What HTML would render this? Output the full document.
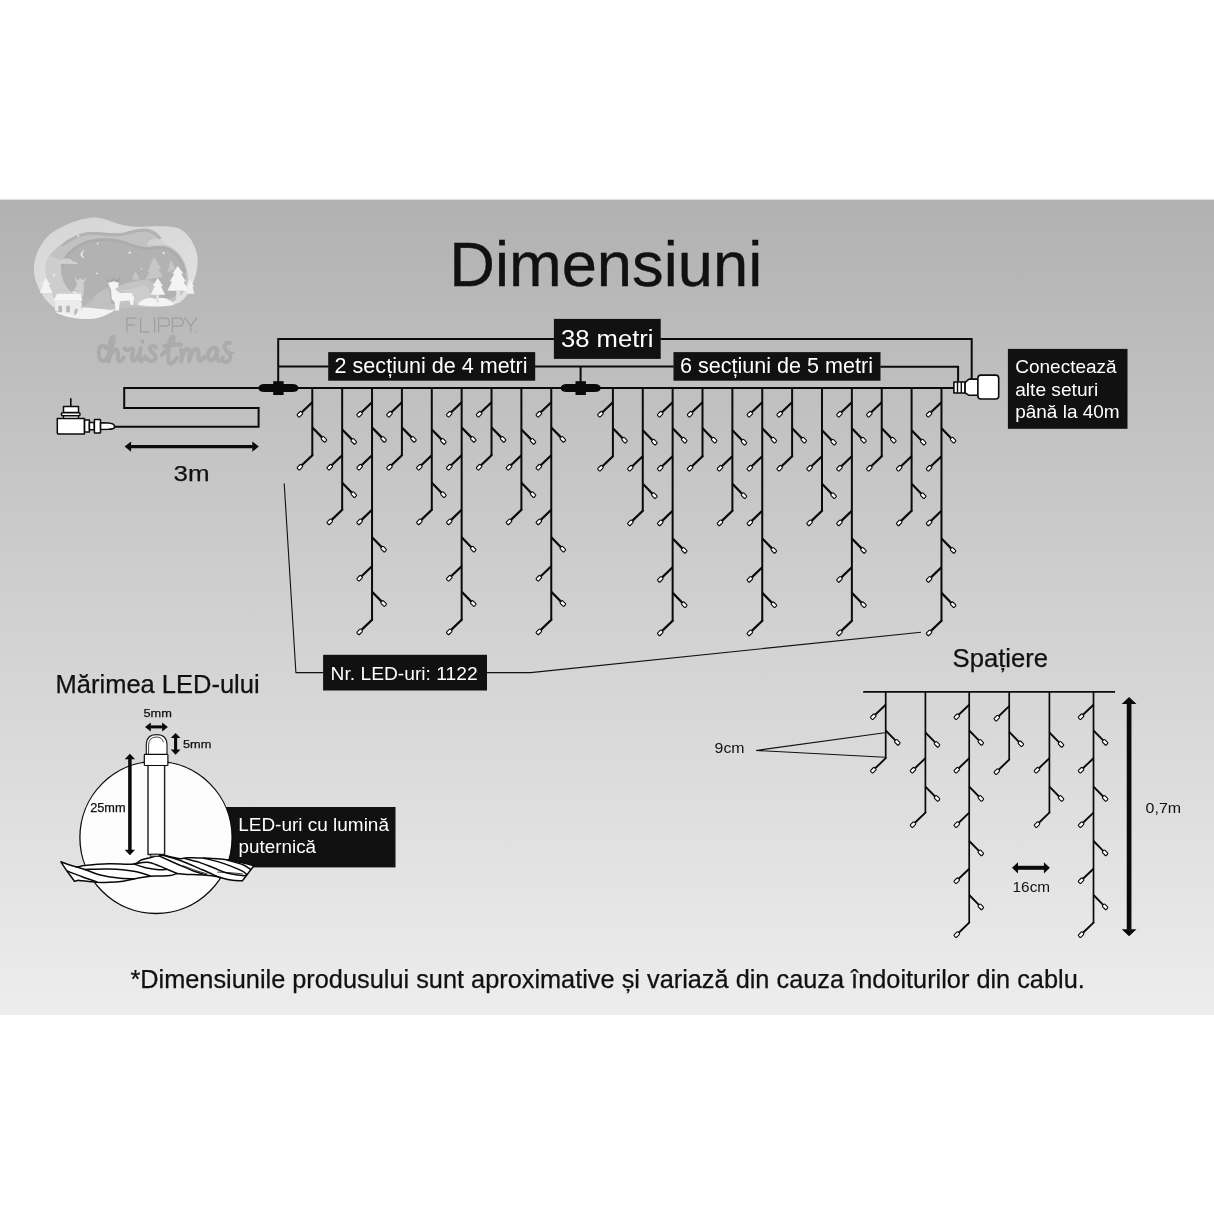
<!DOCTYPE html>
<html lang="ro"><head><meta charset="utf-8"><title>Dimensiuni</title>
<style>
html,body{margin:0;padding:0;background:#fff;}
body{width:1214px;height:1214px;overflow:hidden;position:relative;}
svg{display:block;position:absolute;left:0;top:0;will-change:transform;opacity:0.9999;}
text{font-family:"Liberation Sans", sans-serif;fill:#111;}
.w{fill:#fff;}
.led{fill:#fff;stroke:#0a0a0a;stroke-width:1.1;}
.c{fill:none;stroke:#0a0a0a;stroke-width:2.0;stroke-linejoin:miter;stroke-linecap:butt;}
.c2{fill:none;stroke:#0a0a0a;stroke-width:1.7;stroke-linejoin:miter;stroke-linecap:butt;}
.cb{fill:none;stroke:#0a0a0a;stroke-width:2.25;stroke-linejoin:miter;stroke-linecap:butt;}
.cb2{fill:none;stroke:#0a0a0a;stroke-width:1.9;stroke-linejoin:miter;stroke-linecap:butt;}
.t{fill:none;stroke:#111;stroke-width:1.1;}
.box{fill:#111;}
.wo{fill:#fff;stroke:#0a0a0a;stroke-width:1.2;stroke-linejoin:round;}
</style></head><body>
<svg width="1214" height="1214" viewBox="0 0 1214 1214">
<defs>
<linearGradient id="bg" x1="0" y1="0" x2="0" y2="1"><stop offset="0" stop-color="#b1b1b1"/><stop offset="0.5" stop-color="#d0d0d0"/><stop offset="1" stop-color="#ededed"/></linearGradient>
<filter id="b1" x="-20%" y="-20%" width="140%" height="140%"><feGaussianBlur stdDeviation="0.8"/></filter>
<filter id="b2" x="-20%" y="-20%" width="140%" height="140%"><feGaussianBlur stdDeviation="1.6"/></filter>
<filter id="lb" x="-5%" y="-5%" width="110%" height="110%"><feGaussianBlur stdDeviation="3.2"/></filter>
<filter id="lb2" x="-5%" y="-20%" width="110%" height="140%"><feGaussianBlur stdDeviation="0.35"/></filter>
<filter id="lb3" x="-5%" y="-10%" width="110%" height="120%"><feGaussianBlur stdDeviation="3"/></filter>
<linearGradient id="lg1" x1="0" y1="0" x2="0.3" y2="1"><stop offset="0" stop-color="#d5d5d5"/><stop offset="1" stop-color="#e2e2e2"/></linearGradient>
</defs>
<rect x="0" y="0" width="1214" height="1214" fill="#fff"/>
<rect x="0" y="199.6" width="1214" height="815.3" fill="url(#bg)"/>
<g transform="translate(25 210) scale(0.14828)" filter="url(#lb)">
<!-- outer blob -->
<path fill="url(#lg1)" d="M60 400C60 330 90 240 160 170C230 110 380 50 470 50C540 50 600 95 720 112C800 120 960 95 1040 125C1110 160 1165 260 1165 340C1165 430 1120 540 1080 590C1040 640 960 650 900 650C820 652 720 645 640 665C590 680 520 735 440 735C360 735 260 700 200 660C130 610 60 500 60 400Z"/>
<!-- layer 2 -->
<path fill="#c2c2c2" d="M140 400C135 330 180 280 240 235C290 200 350 160 420 150C520 140 600 172 680 150C740 130 780 120 830 128C880 140 900 165 920 192C880 185 860 200 835 215C900 235 960 225 1000 260C1060 300 1100 380 1100 470C1090 540 1040 600 980 630L300 700C200 640 145 520 140 400Z"/>
<path fill="none" stroke="#b2b2b2" stroke-width="20" d="M250 240C300 200 360 168 420 160C520 150 600 182 680 160C740 142 790 132 830 138C870 148 895 170 912 196"/>
<path fill="#d2d2d2" d="M830 215C850 190 900 185 930 210C960 215 960 235 940 240L840 240C820 235 820 222 830 215Z"/>
<!-- sky -->
<path fill="#b2b2b2" d="M240 400C240 330 300 260 380 220C460 185 560 185 640 200C720 225 780 255 840 250C900 240 960 235 1010 280C1060 320 1090 400 1085 470C1060 560 1000 610 900 620L420 640C300 600 240 500 240 400Z"/>
<path fill="none" stroke="#ababab" stroke-width="16" d="M250 395C255 330 310 268 385 230C460 196 560 196 640 211C720 236 780 266 840 261C900 251 955 246 1005 290C1040 320 1070 370 1078 420"/>
<!-- moon disc layer (left) -->
<path fill="#cdcdcd" d="M140 400C140 350 150 330 170 310L250 340C235 400 240 470 300 545L330 560L200 600C160 540 140 470 140 400Z"/>
<!-- cloud left -->
<path fill="#d0d0d0" d="M205 362C215 345 240 345 250 335C270 320 310 325 320 345C340 345 355 355 355 364Z"/>
<!-- gray trees behind -->
<path fill="#c6c6c6" d="M870 315L920 400L900 400L930 450L810 470L840 420L825 420Z M985 335L1015 400L960 420Z M745 410L772 468L720 468Z"/>
<!-- right hills -->
<path fill="#c4c4c4" d="M620 520C680 490 760 470 820 470C880 480 900 520 900 600L620 640Z"/>
<path fill="#cdcdcd" d="M640 540C700 540 760 520 800 500C830 520 850 560 850 600L740 640C740 600 700 560 640 540Z"/>
<!-- center hill -->
<path fill="#c0c0c0" d="M385 660C430 620 480 560 560 525C580 560 585 640 580 685C520 690 440 680 385 660Z"/>
<path fill="#b6b6b6" d="M385 585C420 580 450 590 470 600L390 655Z"/>
<!-- left deer (gray) -->
<path fill="#cfcfcf" d="M335 450L350 470L365 470L372 455L380 470L395 470L410 450L405 480L392 490L398 520L392 585L345 585L350 540L320 548L345 520L352 490L340 480Z"/>
<!-- snow ground -->
<path fill="#f2f2f2" d="M205 690C260 720 360 740 440 735C520 730 560 700 600 680C560 670 500 660 440 665C380 670 300 680 205 690Z"/>
<path fill="#f2f2f2" d="M380 660C420 650 470 665 520 675L560 690L400 700Z"/>
<path fill="#f4f4f4" d="M760 640C780 600 840 585 880 600C920 580 990 600 1005 640C940 652 840 650 760 640Z"/>
<!-- center deer (white) -->
<path fill="#a3a3a3" d="M545 450L565 478L590 470L600 450L608 470L628 465L640 448L638 480L610 495L575 495L552 478Z"/>
<path fill="#f4f4f4" d="M560 490L600 480L632 490L628 520L610 535L640 560L720 560L735 590L730 640L712 640L705 610L640 615L632 680L612 680L605 620L585 600L580 540Z"/>
<!-- house -->
<path fill="#f5f5f5" d="M215 565L375 565L388 612L192 612Z"/>
<path fill="#ececec" d="M202 612L380 612L380 668C380 690 350 700 330 712L202 680Z"/>
<path fill="#b8b8b8" d="M225 645H250V690H225Z M278 645H303V690H278Z M332 690C332 670 345 660 352 665C360 680 350 700 335 712Z"/>
<path fill="#e4e4e4" d="M320 548L350 548L350 566L320 566Z"/>
<!-- left tree -->
<path fill="#f2f2f2" d="M142 458L172 505L160 505L186 560L100 560L124 505L112 505Z"/>
<path fill="#dcdcdc" d="M132 560H152V610L132 600Z"/>
<!-- right trees (white) -->
<path fill="#f4f4f4" d="M1030 378L1068 430L1052 430L1086 482L1068 482L1104 545L960 545L992 482L976 482L1008 430L994 430Z"/>
<path fill="#e2e2e2" d="M1020 545H1046V625H1020Z"/>
<path fill="#f4f4f4" d="M895 458L930 512L916 512L945 572L848 572L876 512L862 512Z"/>
<path fill="#e2e2e2" d="M884 572H904V625H884Z"/>
<path fill="#f0f0f0" d="M1115 468L1140 520L1130 520L1142 565L1090 565L1100 520L1092 520Z"/>
<!-- stars / moon -->
<g fill="#e6e6e6">
<circle cx="360" cy="175" r="7"/><circle cx="490" cy="226" r="6"/><circle cx="706" cy="288" r="8"/><circle cx="935" cy="290" r="8"/>
<circle cx="196" cy="440" r="8"/><circle cx="486" cy="428" r="6"/><circle cx="786" cy="396" r="5"/><circle cx="130" cy="320" r="5"/><circle cx="182" cy="220" r="5"/>
<path d="M398 272C370 285 368 318 400 322C382 312 380 288 398 272Z" stroke="#e6e6e6" stroke-width="5"/>
</g>
</g>
<!-- FLIPPY -->
<g fill="none" stroke="#9e9e9e" stroke-width="1.25" filter="url(#lb2)">
<path d="M126.9 332.4V318.2H136.3 M126.9 325H135"/>
<path d="M140.6 317.6V331.8H149.6"/>
<path d="M154.6 317.6V332.4"/>
<path d="M158.6 332.4V318.2H165.2Q169.4 318.2 169.4 322.2Q169.4 326.2 165.2 326.2H158.6"/>
<path d="M172.4 332.4V318.2H179Q183.2 318.2 183.2 322.2Q183.2 326.2 179 326.2H172.4"/>
<path d="M184.6 317.6L190.8 325.8L197 317.6 M190.8 325.8V332.4"/>
</g>
<circle cx="196.4" cy="331.2" r="0.9" fill="none" stroke="#a4a4a4" stroke-width="0.5"/>
<!-- christmas script -->
<g transform="translate(90 310) scale(0.13180)" fill="none" stroke="#ababab" stroke-width="31" stroke-linecap="round" stroke-linejoin="round" filter="url(#lb3)">
<path d="M125 290C110 260 75 265 68 310C62 360 80 395 110 385C128 378 135 360 140 345"/>
<path d="M140 345C160 300 185 240 180 210C172 190 155 215 150 260C146 310 142 360 140 392C150 340 175 300 200 300C222 305 205 350 215 380C225 395 245 385 255 360"/>
<path d="M262 290C270 305 290 310 305 295C320 285 335 290 325 320C318 350 315 385 335 385C348 385 355 365 360 350"/>
<path d="M385 290C378 320 370 360 380 382C392 395 410 380 418 355"/>
<path d="M398 238L400 242" stroke-width="30"/>
<path d="M500 285C485 262 455 270 455 298C458 320 500 330 498 360C495 390 455 395 438 372"/>
<path d="M545 340C590 300 640 240 635 210C628 185 605 215 600 260C594 320 590 380 600 402C612 420 640 395 660 360"/>
<path d="M560 275C600 268 650 262 690 262"/>
<path d="M690 300C700 330 695 370 692 390C700 340 720 295 745 295C765 300 755 350 752 388C762 340 785 292 810 295C832 300 818 350 825 378C832 392 855 385 868 355"/>
<path d="M965 300C945 275 905 290 895 335C888 375 915 395 940 370C955 350 965 320 968 298C962 330 958 375 975 385C990 390 1000 375 1008 360"/>
<path d="M1060 250C1040 240 1015 255 1022 285C1030 310 1068 325 1065 360C1060 395 1020 405 1005 380"/>
<path d="M1030 320C1050 318 1075 322 1090 328" stroke-width="14"/>
</g>

<text x="449.2" y="285.6" font-size="62.6" textLength="313" lengthAdjust="spacingAndGlyphs" stroke="#111" stroke-width="0.35">Dimensiuni</text>
<path class="c" d="M114.5 426.7H258.6V408.1H124.2V388.0H953.5"/>
<path d="M130.6 446.6H252.8" stroke="#0a0a0a" stroke-width="3.2" fill="none"/><path d="M124.6 446.6L131.1 441.40000000000003V451.8Z M258.8 446.6L252.3 441.40000000000003V451.8Z" fill="#0a0a0a"/>
<text x="173.6" y="481.3" font-size="22.5" textLength="36" lengthAdjust="spacingAndGlyphs" stroke="#111" stroke-width="0.25">3m</text>
<g class="wo" style="stroke-width:1.5">
<path d="M70.8 398.2V406.2" fill="none" style="stroke-width:1.6"/>
<rect x="63.5" y="406.4" width="15.0" height="6.2"/>
<rect x="63.5" y="414.6" width="15.0" height="4.4" style="stroke-width:1.3"/>
<rect x="61.3" y="412.7" width="18.8" height="3.0" rx="1.5"/>
<path d="M57.3 418.5H84.4V434.1H58.3L57.3 433.1Z"/>
<rect x="84.6" y="420.0" width="4.8" height="12.0"/>
<rect x="89.4" y="422.6" width="4.9" height="7.2"/>
<rect x="94.4" y="419.4" width="6.1" height="13.6" rx="0.6"/>
<path d="M100.6 422.8L108.4 423.0Q113.8 423.6 114.4 425.4L114.4 427.6Q113.8 429.0 108.4 429.3L100.6 429.5Z"/>
</g>
<path class="c" d="M278.2 387V338.9H554.5 M660.5 338.9H971.7V379.0"/>
<path class="c" d="M278.2 366.6H328.5 M535 366.6H673.8 M880.3 366.8H958.1V381.6 M580.6 366.6V384"/>
<path d="M258.4 388.0Q258.4 384.1 264.4 383.9H292.4Q298.4 384.1 298.4 388.0Q298.4 391.9 292.4 392.1H264.4Q258.4 391.9 258.4 388.0Z" fill="#0a0a0a"/><rect x="273.2" y="381.2" width="10.4" height="13.8" fill="#0a0a0a"/>
<path d="M560.7 388.0Q560.7 384.1 566.7 383.9H594.7Q600.7 384.1 600.7 388.0Q600.7 391.9 594.7 392.1H566.7Q560.7 391.9 560.7 388.0Z" fill="#0a0a0a"/><rect x="575.5" y="381.2" width="10.4" height="13.8" fill="#0a0a0a"/>
<g class="wo" style="stroke-width:1.6">
<rect x="953.9" y="382.0" width="11.2" height="11.0"/>
<path d="M957.5 382V393M961.3 382V393" fill="none" style="stroke-width:1.4"/>
<path d="M965.1 382.3L969.0 379.1H978.2V395.3H969.0L965.1 392.8Z"/>
<rect x="977.9" y="375.1" width="20.8" height="23.9" rx="3"/>
</g>
<rect class="box" x="553.9" y="318.9" width="106.8" height="40.0"/>
<text class="w" x="561.0" y="347.1" font-size="23" textLength="92.5" lengthAdjust="spacingAndGlyphs">38 metri</text>
<rect class="box" x="328.2" y="352.1" width="207.0" height="28.6"/>
<text class="w" x="334.6" y="372.9" font-size="21.5" textLength="193" lengthAdjust="spacingAndGlyphs">2 secțiuni de 4 metri</text>
<rect class="box" x="673.5" y="352.1" width="207.0" height="28.6"/>
<text class="w" x="680.0" y="372.9" font-size="21.5" textLength="193" lengthAdjust="spacingAndGlyphs">6 secțiuni de 5 metri</text>
<rect class="box" x="1007.9" y="348.9" width="119.6" height="79.9"/>
<text class="w" x="1015.2" y="372.5" font-size="18.2" textLength="101.5" lengthAdjust="spacingAndGlyphs">Conectează</text>
<text class="w" x="1015.2" y="395.5" font-size="18.2" textLength="83" lengthAdjust="spacingAndGlyphs">alte seturi</text>
<text class="w" x="1015.2" y="418.2" font-size="18.2" textLength="104.5" lengthAdjust="spacingAndGlyphs">până la 40m</text>
<path class="c" d="M312.30 388.00V455.60 M342.17 388.00V510.20 M372.04 388.00V620.20 M401.91 388.00V455.60 M431.78 388.00V510.20 M461.65 388.00V620.20 M491.52 388.00V455.60 M521.39 388.00V510.20 M551.26 388.00V620.20 M612.90 388.00V456.60 M642.77 388.00V511.20 M672.64 388.00V621.20 M702.51 388.00V456.60 M732.38 388.00V511.20 M762.25 388.00V621.20 M792.12 388.00V456.60 M821.99 388.00V511.20 M851.86 388.00V621.20 M881.73 388.00V456.60 M911.60 388.00V511.20 M941.47 388.00V621.20"/>
<path class="cb" d="M312.30 454.60V455.20L301.80 465.30 M312.30 402.20L301.80 412.30 M312.30 427.50L322.00 437.40 M342.17 509.20V509.80L331.67 519.90 M342.17 429.50L351.87 439.40 M342.17 455.20L331.67 465.30 M342.17 482.80L351.87 492.70 M372.04 619.20V619.80L361.54 629.90 M372.04 402.20L361.54 412.30 M372.04 427.50L381.74 437.40 M372.04 455.20L361.54 465.30 M372.04 509.80L361.54 519.90 M372.04 537.30L381.74 547.20 M372.04 566.20L361.54 576.30 M372.04 591.70L381.74 601.60 M401.91 454.60V455.20L391.41 465.30 M401.91 402.20L391.41 412.30 M401.91 427.50L411.61 437.40 M431.78 509.20V509.80L421.28 519.90 M431.78 429.50L441.48 439.40 M431.78 455.20L421.28 465.30 M431.78 482.80L441.48 492.70 M461.65 619.20V619.80L451.15 629.90 M461.65 402.20L451.15 412.30 M461.65 427.50L471.35 437.40 M461.65 455.20L451.15 465.30 M461.65 509.80L451.15 519.90 M461.65 537.30L471.35 547.20 M461.65 566.20L451.15 576.30 M461.65 591.70L471.35 601.60 M491.52 454.60V455.20L481.02 465.30 M491.52 402.20L481.02 412.30 M491.52 427.50L501.22 437.40 M521.39 509.20V509.80L510.89 519.90 M521.39 429.50L531.09 439.40 M521.39 455.20L510.89 465.30 M521.39 482.80L531.09 492.70 M551.26 619.20V619.80L540.76 629.90 M551.26 402.20L540.76 412.30 M551.26 427.50L560.96 437.40 M551.26 455.20L540.76 465.30 M551.26 509.80L540.76 519.90 M551.26 537.30L560.96 547.20 M551.26 566.20L540.76 576.30 M551.26 591.70L560.96 601.60 M612.90 455.60V456.20L602.40 466.30 M612.90 402.20L602.40 412.30 M612.90 428.30L622.60 438.20 M642.77 510.20V510.80L632.27 520.90 M642.77 430.30L652.47 440.20 M642.77 456.20L632.27 466.30 M642.77 483.80L652.47 493.70 M672.64 620.20V620.80L662.14 630.90 M672.64 402.20L662.14 412.30 M672.64 428.30L682.34 438.20 M672.64 456.20L662.14 466.30 M672.64 510.80L662.14 520.90 M672.64 538.50L682.34 548.40 M672.64 567.30L662.14 577.40 M672.64 592.90L682.34 602.80 M702.51 455.60V456.20L692.01 466.30 M702.51 402.20L692.01 412.30 M702.51 428.30L712.21 438.20 M732.38 510.20V510.80L721.88 520.90 M732.38 430.30L742.08 440.20 M732.38 456.20L721.88 466.30 M732.38 483.80L742.08 493.70 M762.25 620.20V620.80L751.75 630.90 M762.25 402.20L751.75 412.30 M762.25 428.30L771.95 438.20 M762.25 456.20L751.75 466.30 M762.25 510.80L751.75 520.90 M762.25 538.50L771.95 548.40 M762.25 567.30L751.75 577.40 M762.25 592.90L771.95 602.80 M792.12 455.60V456.20L781.62 466.30 M792.12 402.20L781.62 412.30 M792.12 428.30L801.82 438.20 M821.99 510.20V510.80L811.49 520.90 M821.99 430.30L831.69 440.20 M821.99 456.20L811.49 466.30 M821.99 483.80L831.69 493.70 M851.86 620.20V620.80L841.36 630.90 M851.86 402.20L841.36 412.30 M851.86 428.30L861.56 438.20 M851.86 456.20L841.36 466.30 M851.86 510.80L841.36 520.90 M851.86 538.50L861.56 548.40 M851.86 567.30L841.36 577.40 M851.86 592.90L861.56 602.80 M881.73 455.60V456.20L871.23 466.30 M881.73 402.20L871.23 412.30 M881.73 428.30L891.43 438.20 M911.60 510.20V510.80L901.10 520.90 M911.60 430.30L921.30 440.20 M911.60 456.20L901.10 466.30 M911.60 483.80L921.30 493.70 M941.47 620.20V620.80L930.97 630.90 M941.47 402.20L930.97 412.30 M941.47 428.30L951.17 438.20 M941.47 456.20L930.97 466.30 M941.47 510.80L930.97 520.90 M941.47 538.50L951.17 548.40 M941.47 567.30L930.97 577.40 M941.47 592.90L951.17 602.80"/>
<rect x="-2.7" y="-1.75" width="5.4" height="3.5" rx="1.0" transform="translate(299.90 467.20) rotate(135)" class="led"/><rect x="-2.7" y="-1.75" width="5.4" height="3.5" rx="1.0" transform="translate(299.90 414.20) rotate(135)" class="led"/><rect x="-2.7" y="-1.75" width="5.4" height="3.5" rx="1.0" transform="translate(323.90 439.30) rotate(45)" class="led"/><rect x="-2.7" y="-1.75" width="5.4" height="3.5" rx="1.0" transform="translate(329.77 521.80) rotate(135)" class="led"/><rect x="-2.7" y="-1.75" width="5.4" height="3.5" rx="1.0" transform="translate(353.77 441.30) rotate(45)" class="led"/><rect x="-2.7" y="-1.75" width="5.4" height="3.5" rx="1.0" transform="translate(329.77 467.20) rotate(135)" class="led"/><rect x="-2.7" y="-1.75" width="5.4" height="3.5" rx="1.0" transform="translate(353.77 494.60) rotate(45)" class="led"/><rect x="-2.7" y="-1.75" width="5.4" height="3.5" rx="1.0" transform="translate(359.64 631.80) rotate(135)" class="led"/><rect x="-2.7" y="-1.75" width="5.4" height="3.5" rx="1.0" transform="translate(359.64 414.20) rotate(135)" class="led"/><rect x="-2.7" y="-1.75" width="5.4" height="3.5" rx="1.0" transform="translate(383.64 439.30) rotate(45)" class="led"/><rect x="-2.7" y="-1.75" width="5.4" height="3.5" rx="1.0" transform="translate(359.64 467.20) rotate(135)" class="led"/><rect x="-2.7" y="-1.75" width="5.4" height="3.5" rx="1.0" transform="translate(359.64 521.80) rotate(135)" class="led"/><rect x="-2.7" y="-1.75" width="5.4" height="3.5" rx="1.0" transform="translate(383.64 549.10) rotate(45)" class="led"/><rect x="-2.7" y="-1.75" width="5.4" height="3.5" rx="1.0" transform="translate(359.64 578.20) rotate(135)" class="led"/><rect x="-2.7" y="-1.75" width="5.4" height="3.5" rx="1.0" transform="translate(383.64 603.50) rotate(45)" class="led"/><rect x="-2.7" y="-1.75" width="5.4" height="3.5" rx="1.0" transform="translate(389.51 467.20) rotate(135)" class="led"/><rect x="-2.7" y="-1.75" width="5.4" height="3.5" rx="1.0" transform="translate(389.51 414.20) rotate(135)" class="led"/><rect x="-2.7" y="-1.75" width="5.4" height="3.5" rx="1.0" transform="translate(413.51 439.30) rotate(45)" class="led"/><rect x="-2.7" y="-1.75" width="5.4" height="3.5" rx="1.0" transform="translate(419.38 521.80) rotate(135)" class="led"/><rect x="-2.7" y="-1.75" width="5.4" height="3.5" rx="1.0" transform="translate(443.38 441.30) rotate(45)" class="led"/><rect x="-2.7" y="-1.75" width="5.4" height="3.5" rx="1.0" transform="translate(419.38 467.20) rotate(135)" class="led"/><rect x="-2.7" y="-1.75" width="5.4" height="3.5" rx="1.0" transform="translate(443.38 494.60) rotate(45)" class="led"/><rect x="-2.7" y="-1.75" width="5.4" height="3.5" rx="1.0" transform="translate(449.25 631.80) rotate(135)" class="led"/><rect x="-2.7" y="-1.75" width="5.4" height="3.5" rx="1.0" transform="translate(449.25 414.20) rotate(135)" class="led"/><rect x="-2.7" y="-1.75" width="5.4" height="3.5" rx="1.0" transform="translate(473.25 439.30) rotate(45)" class="led"/><rect x="-2.7" y="-1.75" width="5.4" height="3.5" rx="1.0" transform="translate(449.25 467.20) rotate(135)" class="led"/><rect x="-2.7" y="-1.75" width="5.4" height="3.5" rx="1.0" transform="translate(449.25 521.80) rotate(135)" class="led"/><rect x="-2.7" y="-1.75" width="5.4" height="3.5" rx="1.0" transform="translate(473.25 549.10) rotate(45)" class="led"/><rect x="-2.7" y="-1.75" width="5.4" height="3.5" rx="1.0" transform="translate(449.25 578.20) rotate(135)" class="led"/><rect x="-2.7" y="-1.75" width="5.4" height="3.5" rx="1.0" transform="translate(473.25 603.50) rotate(45)" class="led"/><rect x="-2.7" y="-1.75" width="5.4" height="3.5" rx="1.0" transform="translate(479.12 467.20) rotate(135)" class="led"/><rect x="-2.7" y="-1.75" width="5.4" height="3.5" rx="1.0" transform="translate(479.12 414.20) rotate(135)" class="led"/><rect x="-2.7" y="-1.75" width="5.4" height="3.5" rx="1.0" transform="translate(503.12 439.30) rotate(45)" class="led"/><rect x="-2.7" y="-1.75" width="5.4" height="3.5" rx="1.0" transform="translate(508.99 521.80) rotate(135)" class="led"/><rect x="-2.7" y="-1.75" width="5.4" height="3.5" rx="1.0" transform="translate(532.99 441.30) rotate(45)" class="led"/><rect x="-2.7" y="-1.75" width="5.4" height="3.5" rx="1.0" transform="translate(508.99 467.20) rotate(135)" class="led"/><rect x="-2.7" y="-1.75" width="5.4" height="3.5" rx="1.0" transform="translate(532.99 494.60) rotate(45)" class="led"/><rect x="-2.7" y="-1.75" width="5.4" height="3.5" rx="1.0" transform="translate(538.86 631.80) rotate(135)" class="led"/><rect x="-2.7" y="-1.75" width="5.4" height="3.5" rx="1.0" transform="translate(538.86 414.20) rotate(135)" class="led"/><rect x="-2.7" y="-1.75" width="5.4" height="3.5" rx="1.0" transform="translate(562.86 439.30) rotate(45)" class="led"/><rect x="-2.7" y="-1.75" width="5.4" height="3.5" rx="1.0" transform="translate(538.86 467.20) rotate(135)" class="led"/><rect x="-2.7" y="-1.75" width="5.4" height="3.5" rx="1.0" transform="translate(538.86 521.80) rotate(135)" class="led"/><rect x="-2.7" y="-1.75" width="5.4" height="3.5" rx="1.0" transform="translate(562.86 549.10) rotate(45)" class="led"/><rect x="-2.7" y="-1.75" width="5.4" height="3.5" rx="1.0" transform="translate(538.86 578.20) rotate(135)" class="led"/><rect x="-2.7" y="-1.75" width="5.4" height="3.5" rx="1.0" transform="translate(562.86 603.50) rotate(45)" class="led"/><rect x="-2.7" y="-1.75" width="5.4" height="3.5" rx="1.0" transform="translate(600.50 468.20) rotate(135)" class="led"/><rect x="-2.7" y="-1.75" width="5.4" height="3.5" rx="1.0" transform="translate(600.50 414.20) rotate(135)" class="led"/><rect x="-2.7" y="-1.75" width="5.4" height="3.5" rx="1.0" transform="translate(624.50 440.10) rotate(45)" class="led"/><rect x="-2.7" y="-1.75" width="5.4" height="3.5" rx="1.0" transform="translate(630.37 522.80) rotate(135)" class="led"/><rect x="-2.7" y="-1.75" width="5.4" height="3.5" rx="1.0" transform="translate(654.37 442.10) rotate(45)" class="led"/><rect x="-2.7" y="-1.75" width="5.4" height="3.5" rx="1.0" transform="translate(630.37 468.20) rotate(135)" class="led"/><rect x="-2.7" y="-1.75" width="5.4" height="3.5" rx="1.0" transform="translate(654.37 495.60) rotate(45)" class="led"/><rect x="-2.7" y="-1.75" width="5.4" height="3.5" rx="1.0" transform="translate(660.24 632.80) rotate(135)" class="led"/><rect x="-2.7" y="-1.75" width="5.4" height="3.5" rx="1.0" transform="translate(660.24 414.20) rotate(135)" class="led"/><rect x="-2.7" y="-1.75" width="5.4" height="3.5" rx="1.0" transform="translate(684.24 440.10) rotate(45)" class="led"/><rect x="-2.7" y="-1.75" width="5.4" height="3.5" rx="1.0" transform="translate(660.24 468.20) rotate(135)" class="led"/><rect x="-2.7" y="-1.75" width="5.4" height="3.5" rx="1.0" transform="translate(660.24 522.80) rotate(135)" class="led"/><rect x="-2.7" y="-1.75" width="5.4" height="3.5" rx="1.0" transform="translate(684.24 550.30) rotate(45)" class="led"/><rect x="-2.7" y="-1.75" width="5.4" height="3.5" rx="1.0" transform="translate(660.24 579.30) rotate(135)" class="led"/><rect x="-2.7" y="-1.75" width="5.4" height="3.5" rx="1.0" transform="translate(684.24 604.70) rotate(45)" class="led"/><rect x="-2.7" y="-1.75" width="5.4" height="3.5" rx="1.0" transform="translate(690.11 468.20) rotate(135)" class="led"/><rect x="-2.7" y="-1.75" width="5.4" height="3.5" rx="1.0" transform="translate(690.11 414.20) rotate(135)" class="led"/><rect x="-2.7" y="-1.75" width="5.4" height="3.5" rx="1.0" transform="translate(714.11 440.10) rotate(45)" class="led"/><rect x="-2.7" y="-1.75" width="5.4" height="3.5" rx="1.0" transform="translate(719.98 522.80) rotate(135)" class="led"/><rect x="-2.7" y="-1.75" width="5.4" height="3.5" rx="1.0" transform="translate(743.98 442.10) rotate(45)" class="led"/><rect x="-2.7" y="-1.75" width="5.4" height="3.5" rx="1.0" transform="translate(719.98 468.20) rotate(135)" class="led"/><rect x="-2.7" y="-1.75" width="5.4" height="3.5" rx="1.0" transform="translate(743.98 495.60) rotate(45)" class="led"/><rect x="-2.7" y="-1.75" width="5.4" height="3.5" rx="1.0" transform="translate(749.85 632.80) rotate(135)" class="led"/><rect x="-2.7" y="-1.75" width="5.4" height="3.5" rx="1.0" transform="translate(749.85 414.20) rotate(135)" class="led"/><rect x="-2.7" y="-1.75" width="5.4" height="3.5" rx="1.0" transform="translate(773.85 440.10) rotate(45)" class="led"/><rect x="-2.7" y="-1.75" width="5.4" height="3.5" rx="1.0" transform="translate(749.85 468.20) rotate(135)" class="led"/><rect x="-2.7" y="-1.75" width="5.4" height="3.5" rx="1.0" transform="translate(749.85 522.80) rotate(135)" class="led"/><rect x="-2.7" y="-1.75" width="5.4" height="3.5" rx="1.0" transform="translate(773.85 550.30) rotate(45)" class="led"/><rect x="-2.7" y="-1.75" width="5.4" height="3.5" rx="1.0" transform="translate(749.85 579.30) rotate(135)" class="led"/><rect x="-2.7" y="-1.75" width="5.4" height="3.5" rx="1.0" transform="translate(773.85 604.70) rotate(45)" class="led"/><rect x="-2.7" y="-1.75" width="5.4" height="3.5" rx="1.0" transform="translate(779.72 468.20) rotate(135)" class="led"/><rect x="-2.7" y="-1.75" width="5.4" height="3.5" rx="1.0" transform="translate(779.72 414.20) rotate(135)" class="led"/><rect x="-2.7" y="-1.75" width="5.4" height="3.5" rx="1.0" transform="translate(803.72 440.10) rotate(45)" class="led"/><rect x="-2.7" y="-1.75" width="5.4" height="3.5" rx="1.0" transform="translate(809.59 522.80) rotate(135)" class="led"/><rect x="-2.7" y="-1.75" width="5.4" height="3.5" rx="1.0" transform="translate(833.59 442.10) rotate(45)" class="led"/><rect x="-2.7" y="-1.75" width="5.4" height="3.5" rx="1.0" transform="translate(809.59 468.20) rotate(135)" class="led"/><rect x="-2.7" y="-1.75" width="5.4" height="3.5" rx="1.0" transform="translate(833.59 495.60) rotate(45)" class="led"/><rect x="-2.7" y="-1.75" width="5.4" height="3.5" rx="1.0" transform="translate(839.46 632.80) rotate(135)" class="led"/><rect x="-2.7" y="-1.75" width="5.4" height="3.5" rx="1.0" transform="translate(839.46 414.20) rotate(135)" class="led"/><rect x="-2.7" y="-1.75" width="5.4" height="3.5" rx="1.0" transform="translate(863.46 440.10) rotate(45)" class="led"/><rect x="-2.7" y="-1.75" width="5.4" height="3.5" rx="1.0" transform="translate(839.46 468.20) rotate(135)" class="led"/><rect x="-2.7" y="-1.75" width="5.4" height="3.5" rx="1.0" transform="translate(839.46 522.80) rotate(135)" class="led"/><rect x="-2.7" y="-1.75" width="5.4" height="3.5" rx="1.0" transform="translate(863.46 550.30) rotate(45)" class="led"/><rect x="-2.7" y="-1.75" width="5.4" height="3.5" rx="1.0" transform="translate(839.46 579.30) rotate(135)" class="led"/><rect x="-2.7" y="-1.75" width="5.4" height="3.5" rx="1.0" transform="translate(863.46 604.70) rotate(45)" class="led"/><rect x="-2.7" y="-1.75" width="5.4" height="3.5" rx="1.0" transform="translate(869.33 468.20) rotate(135)" class="led"/><rect x="-2.7" y="-1.75" width="5.4" height="3.5" rx="1.0" transform="translate(869.33 414.20) rotate(135)" class="led"/><rect x="-2.7" y="-1.75" width="5.4" height="3.5" rx="1.0" transform="translate(893.33 440.10) rotate(45)" class="led"/><rect x="-2.7" y="-1.75" width="5.4" height="3.5" rx="1.0" transform="translate(899.20 522.80) rotate(135)" class="led"/><rect x="-2.7" y="-1.75" width="5.4" height="3.5" rx="1.0" transform="translate(923.20 442.10) rotate(45)" class="led"/><rect x="-2.7" y="-1.75" width="5.4" height="3.5" rx="1.0" transform="translate(899.20 468.20) rotate(135)" class="led"/><rect x="-2.7" y="-1.75" width="5.4" height="3.5" rx="1.0" transform="translate(923.20 495.60) rotate(45)" class="led"/><rect x="-2.7" y="-1.75" width="5.4" height="3.5" rx="1.0" transform="translate(929.07 632.80) rotate(135)" class="led"/><rect x="-2.7" y="-1.75" width="5.4" height="3.5" rx="1.0" transform="translate(929.07 414.20) rotate(135)" class="led"/><rect x="-2.7" y="-1.75" width="5.4" height="3.5" rx="1.0" transform="translate(953.07 440.10) rotate(45)" class="led"/><rect x="-2.7" y="-1.75" width="5.4" height="3.5" rx="1.0" transform="translate(929.07 468.20) rotate(135)" class="led"/><rect x="-2.7" y="-1.75" width="5.4" height="3.5" rx="1.0" transform="translate(929.07 522.80) rotate(135)" class="led"/><rect x="-2.7" y="-1.75" width="5.4" height="3.5" rx="1.0" transform="translate(953.07 550.30) rotate(45)" class="led"/><rect x="-2.7" y="-1.75" width="5.4" height="3.5" rx="1.0" transform="translate(929.07 579.30) rotate(135)" class="led"/><rect x="-2.7" y="-1.75" width="5.4" height="3.5" rx="1.0" transform="translate(953.07 604.70) rotate(45)" class="led"/>
<path class="t" d="M284.2 483.5L295.9 672.6H323.5 M486.5 672.6H530.7L921 632.2"/>
<rect class="box" x="323.1" y="654.8" width="163.9" height="35.7"/>
<text class="w" x="330.6" y="679.5" font-size="18.6" textLength="147" lengthAdjust="spacingAndGlyphs">Nr. LED-uri: 1122</text>
<text x="952.6" y="667.4" font-size="25" textLength="95.5" lengthAdjust="spacingAndGlyphs" stroke="#111" stroke-width="0.25">Spațiere</text>
<path class="c" d="M863.2 691.9H1115" style="stroke-width:1.9"/>
<path class="c2" d="M885.70 691.90V758.60 M925.40 691.90V813.00 M969.20 691.90V923.00 M1009.20 691.90V760.00 M1049.40 691.90V813.00 M1093.50 691.90V923.00"/>
<path class="cb2" d="M885.70 757.60V758.20L875.20 768.30 M885.70 704.70L875.20 714.80 M885.70 730.50L895.40 740.40 M925.40 812.00V812.60L914.90 822.70 M925.40 732.50L935.10 742.40 M925.40 758.20L914.90 768.30 M925.40 786.60L935.10 796.50 M969.20 922.00V922.60L958.70 932.70 M969.20 704.70L958.70 714.80 M969.20 730.50L978.90 740.40 M969.20 758.20L958.70 768.30 M969.20 786.60L978.90 796.50 M969.20 812.60L958.70 822.70 M969.20 841.00L978.90 850.90 M969.20 868.70L958.70 878.80 M969.20 895.00L978.90 904.90 M1009.20 759.00V759.60L998.70 769.70 M1009.20 706.10L998.70 716.20 M1009.20 731.90L1018.90 741.80 M1049.40 812.00V812.60L1038.90 822.70 M1049.40 732.50L1059.10 742.40 M1049.40 758.20L1038.90 768.30 M1049.40 786.60L1059.10 796.50 M1093.50 922.00V922.60L1083.00 932.70 M1093.50 704.70L1083.00 714.80 M1093.50 730.50L1103.20 740.40 M1093.50 758.20L1083.00 768.30 M1093.50 786.60L1103.20 796.50 M1093.50 812.60L1083.00 822.70 M1093.50 841.00L1103.20 850.90 M1093.50 868.70L1083.00 878.80 M1093.50 895.00L1103.20 904.90"/>
<rect x="-2.7" y="-1.75" width="5.4" height="3.5" rx="1.0" transform="translate(873.30 770.20) rotate(135)" class="led"/><rect x="-2.7" y="-1.75" width="5.4" height="3.5" rx="1.0" transform="translate(873.30 716.70) rotate(135)" class="led"/><rect x="-2.7" y="-1.75" width="5.4" height="3.5" rx="1.0" transform="translate(897.30 742.30) rotate(45)" class="led"/><rect x="-2.7" y="-1.75" width="5.4" height="3.5" rx="1.0" transform="translate(913.00 824.60) rotate(135)" class="led"/><rect x="-2.7" y="-1.75" width="5.4" height="3.5" rx="1.0" transform="translate(937.00 744.30) rotate(45)" class="led"/><rect x="-2.7" y="-1.75" width="5.4" height="3.5" rx="1.0" transform="translate(913.00 770.20) rotate(135)" class="led"/><rect x="-2.7" y="-1.75" width="5.4" height="3.5" rx="1.0" transform="translate(937.00 798.40) rotate(45)" class="led"/><rect x="-2.7" y="-1.75" width="5.4" height="3.5" rx="1.0" transform="translate(956.80 934.60) rotate(135)" class="led"/><rect x="-2.7" y="-1.75" width="5.4" height="3.5" rx="1.0" transform="translate(956.80 716.70) rotate(135)" class="led"/><rect x="-2.7" y="-1.75" width="5.4" height="3.5" rx="1.0" transform="translate(980.80 742.30) rotate(45)" class="led"/><rect x="-2.7" y="-1.75" width="5.4" height="3.5" rx="1.0" transform="translate(956.80 770.20) rotate(135)" class="led"/><rect x="-2.7" y="-1.75" width="5.4" height="3.5" rx="1.0" transform="translate(980.80 798.40) rotate(45)" class="led"/><rect x="-2.7" y="-1.75" width="5.4" height="3.5" rx="1.0" transform="translate(956.80 824.60) rotate(135)" class="led"/><rect x="-2.7" y="-1.75" width="5.4" height="3.5" rx="1.0" transform="translate(980.80 852.80) rotate(45)" class="led"/><rect x="-2.7" y="-1.75" width="5.4" height="3.5" rx="1.0" transform="translate(956.80 880.70) rotate(135)" class="led"/><rect x="-2.7" y="-1.75" width="5.4" height="3.5" rx="1.0" transform="translate(980.80 906.80) rotate(45)" class="led"/><rect x="-2.7" y="-1.75" width="5.4" height="3.5" rx="1.0" transform="translate(996.80 771.60) rotate(135)" class="led"/><rect x="-2.7" y="-1.75" width="5.4" height="3.5" rx="1.0" transform="translate(996.80 718.10) rotate(135)" class="led"/><rect x="-2.7" y="-1.75" width="5.4" height="3.5" rx="1.0" transform="translate(1020.80 743.70) rotate(45)" class="led"/><rect x="-2.7" y="-1.75" width="5.4" height="3.5" rx="1.0" transform="translate(1037.00 824.60) rotate(135)" class="led"/><rect x="-2.7" y="-1.75" width="5.4" height="3.5" rx="1.0" transform="translate(1061.00 744.30) rotate(45)" class="led"/><rect x="-2.7" y="-1.75" width="5.4" height="3.5" rx="1.0" transform="translate(1037.00 770.20) rotate(135)" class="led"/><rect x="-2.7" y="-1.75" width="5.4" height="3.5" rx="1.0" transform="translate(1061.00 798.40) rotate(45)" class="led"/><rect x="-2.7" y="-1.75" width="5.4" height="3.5" rx="1.0" transform="translate(1081.10 934.60) rotate(135)" class="led"/><rect x="-2.7" y="-1.75" width="5.4" height="3.5" rx="1.0" transform="translate(1081.10 716.70) rotate(135)" class="led"/><rect x="-2.7" y="-1.75" width="5.4" height="3.5" rx="1.0" transform="translate(1105.10 742.30) rotate(45)" class="led"/><rect x="-2.7" y="-1.75" width="5.4" height="3.5" rx="1.0" transform="translate(1081.10 770.20) rotate(135)" class="led"/><rect x="-2.7" y="-1.75" width="5.4" height="3.5" rx="1.0" transform="translate(1105.10 798.40) rotate(45)" class="led"/><rect x="-2.7" y="-1.75" width="5.4" height="3.5" rx="1.0" transform="translate(1081.10 824.60) rotate(135)" class="led"/><rect x="-2.7" y="-1.75" width="5.4" height="3.5" rx="1.0" transform="translate(1105.10 852.80) rotate(45)" class="led"/><rect x="-2.7" y="-1.75" width="5.4" height="3.5" rx="1.0" transform="translate(1081.10 880.70) rotate(135)" class="led"/><rect x="-2.7" y="-1.75" width="5.4" height="3.5" rx="1.0" transform="translate(1105.10 906.80) rotate(45)" class="led"/>
<path class="t" d="M884.8 732.7L756 750.5L884.8 757.2"/>
<text x="714.6" y="753.4" font-size="15" textLength="30" lengthAdjust="spacingAndGlyphs">9cm</text>
<path d="M1129.1 703.5V929.7" stroke="#0a0a0a" stroke-width="4.7" fill="none"/><path d="M1129.1 697.0L1121.6999999999998 704.0H1136.5Z M1129.1 936.2L1121.6999999999998 929.2H1136.5Z" fill="#0a0a0a"/>
<text x="1145.6" y="813.0" font-size="15.5" textLength="35.5" lengthAdjust="spacingAndGlyphs">0,7m</text>
<path d="M1017.5 867.8H1044.4" stroke="#0a0a0a" stroke-width="4.0" fill="none"/><path d="M1012.0 867.8L1018.0 862.1999999999999V873.4Z M1049.9 867.8L1043.9 862.1999999999999V873.4Z" fill="#0a0a0a"/>
<text x="1012.6" y="892.3" font-size="15" textLength="37.5" lengthAdjust="spacingAndGlyphs">16cm</text>
<text x="55.6" y="692.6" font-size="25" textLength="204" lengthAdjust="spacingAndGlyphs" stroke="#111" stroke-width="0.25">Mărimea LED-ului</text>
<rect class="box" x="222" y="807.0" width="173.5" height="60.4"/>
<circle cx="156" cy="837.4" r="76.1" fill="#fdfdfd" stroke="#0a0a0a" stroke-width="1.3"/>
<text class="w" x="238.2" y="830.9" font-size="18.6" textLength="150.8" lengthAdjust="spacingAndGlyphs">LED-uri cu lumină</text>
<text class="w" x="238.6" y="853.4" font-size="18.6" textLength="77.5" lengthAdjust="spacingAndGlyphs">puternică</text>
<g class="wo" stroke-width="1.25">
<rect x="148.0" y="765.0" width="16.6" height="89.4" style="stroke-width:1.45;stroke:#222"/>
<path d="M146.3 754.8V745Q146.3 734.6 156.6 734.6Q167 734.6 167 745V754.8Z" style="stroke-width:1.2;stroke:#222"/>
<path d="M148.6 754.2V745.4Q148.6 737.0 156.4 737.0Q162.2 737.0 163.4 742.2" fill="none" style="stroke-width:0.9;stroke:#333"/>
<rect x="144.3" y="754.3" width="23.6" height="11.2" rx="0.8"/>
</g>
<path d="M150.3 726.9H162.6" stroke="#0a0a0a" stroke-width="3.0" fill="none"/><path d="M145.0 726.9L150.8 722.4V731.4Z M167.9 726.9L162.1 722.4V731.4Z" fill="#0a0a0a"/>
<text x="143.5" y="717.3" font-size="11.6" textLength="28.4" lengthAdjust="spacingAndGlyphs" stroke="#111" stroke-width="0.25">5mm</text>
<path d="M175.6 737.6V750.0999999999999" stroke="#0a0a0a" stroke-width="3.1" fill="none"/><path d="M175.6 732.9L170.7 738.1H180.5Z M175.6 754.8L170.7 749.5999999999999H180.5Z" fill="#0a0a0a"/>
<text x="183.0" y="747.5" font-size="11.6" textLength="28.4" lengthAdjust="spacingAndGlyphs" stroke="#111" stroke-width="0.25">5mm</text>
<path d="M129.9 758.6999999999999V850.3000000000001" stroke="#0a0a0a" stroke-width="3.5" fill="none"/><path d="M129.9 753.8L124.7 759.1999999999999H135.1Z M129.9 855.2L124.7 849.8000000000001H135.1Z" fill="#0a0a0a"/>
<text x="90.2" y="811.5" font-size="12" textLength="35.4" lengthAdjust="spacingAndGlyphs" stroke="#111" stroke-width="0.25">25mm</text>
<g stroke="#0a0a0a" stroke-width="1.5" stroke-linejoin="round" stroke-linecap="round">
<path fill="#fff" d="M60.9 861.8C63.4 862.6 71.8 866.1 75.8 866.7C79.8 867.4 79.3 865.9 84.9 865.4C90.5 864.9 101.2 864.1 109.4 863.8C117.5 863.6 128.5 864.7 133.8 864.0C139.1 863.4 138.4 861.0 141.1 860.0C143.8 858.9 147.2 858.4 150.1 857.7C153.1 856.9 157.4 855.8 158.8 855.4C159.8 855.4 162.3 855.3 164.5 855.6C166.8 855.9 169.7 856.7 172.4 857.2C175.0 857.7 178.1 858.6 180.6 858.7C183.1 858.8 184.4 857.8 187.2 857.7C189.9 857.6 194.3 858.0 197.1 858.0C199.8 858.1 200.2 857.9 203.7 858.0C207.1 858.2 213.5 858.4 217.7 858.7C221.8 859.0 224.3 859.3 228.4 859.9C232.5 860.6 238.1 861.9 242.4 862.8C246.6 863.8 252.0 865.2 253.9 865.7L242.4 880.7C240.5 880.6 235.0 880.8 230.8 880.1C226.7 879.5 221.8 877.7 217.7 876.8C213.5 876.0 211.2 875.6 206.1 875.2C201.0 874.8 192.1 874.6 187.2 874.4C182.2 874.1 178.3 873.7 176.5 873.5C175.4 873.9 172.6 875.2 169.9 875.6C167.1 876.0 163.3 875.9 160.0 876.0C156.7 876.1 154.5 875.8 150.1 876.3C145.8 876.8 138.4 878.1 133.8 879.0C129.3 879.8 127.0 880.7 123.0 881.2C118.9 881.8 113.7 882.2 109.4 882.3C105.0 882.5 101.2 882.4 96.7 882.2C92.2 881.9 85.2 881.1 82.2 880.8C79.2 880.5 79.8 880.3 78.6 880.3C77.3 880.4 75.2 881.1 74.5 881.2L66.8 870.8Z"/>
<g fill="none">
<path d="M75.8 866.7C77.4 867.2 80.8 868.1 84.9 869.5C89.0 870.8 94.7 873.5 100.3 874.9C105.9 876.3 112.8 877.4 118.4 878.1C124.0 878.8 131.3 878.8 133.8 879.0"/>
<path d="M67.7 871.3C70.1 872.2 77.4 875.0 82.2 876.7C87.0 878.5 94.3 880.9 96.7 881.7"/>
<path d="M84.9 869.5C89.0 869.4 101.2 868.7 109.4 869.0C117.5 869.3 127.0 870.1 133.8 871.3C140.6 872.4 147.4 875.1 150.1 875.8"/>
<path d="M133.8 864.0C135.8 864.6 141.4 866.7 145.6 867.7C149.8 868.6 155.3 869.5 158.8 869.8C162.4 870.1 165.6 869.3 166.9 869.2"/>
<path d="M134.6 864.0C136.7 863.7 143.3 862.0 147.3 862.3C151.3 862.6 155.6 864.6 158.8 865.8C162.1 866.9 165.3 868.5 166.9 869.2C168.5 869.9 166.6 869.2 168.2 869.8C169.8 870.5 175.1 872.6 176.5 873.1"/>
<path d="M158.8 856.0C159.0 856.0 157.1 855.1 160.0 856.4C162.9 857.7 171.0 861.3 176.5 863.7C182.0 866.0 188.0 868.8 192.9 870.7C197.9 872.5 203.9 874.2 206.1 874.9"/>
<path d="M164.9 855.8C167.8 856.7 176.5 859.1 182.2 861.2C188.0 863.3 194.5 866.4 199.5 868.6C204.6 870.8 209.3 872.8 212.7 874.4C216.2 875.9 218.9 877.2 220.1 877.8"/>
<path d="M184.7 858.5C187.2 859.2 194.7 860.9 199.5 862.4C204.3 864.0 209.1 866.1 213.5 867.8C217.9 869.5 221.1 871.4 225.9 872.7C230.7 874.0 239.0 875.2 242.4 875.6C245.7 876.0 245.5 875.3 246.1 875.2"/>
<path d="M203.7 858.2C206.0 858.8 213.1 860.3 217.7 861.6C222.2 862.9 226.7 864.5 230.8 866.1C235.0 867.7 239.8 869.7 242.4 871.1C245.0 872.4 245.8 873.8 246.5 874.4"/>
<path d="M227.5 860.2C230.0 860.9 238.5 863.0 242.4 864.5C246.2 866.0 249.2 868.5 250.6 869.3"/>
<path d="M183.1 865.7C185.4 866.6 193.1 869.6 197.1 870.9C201.0 872.2 205.3 873.2 207.0 873.7" stroke-width="0.8"/>
<path d="M217.7 872.1C219.7 872.2 225.9 872.4 230.0 872.7C234.1 873.0 240.3 873.7 242.4 873.9" stroke-width="0.8"/>
</g>
<path d="M151.3 854.2L158.3 854.2L159.4 856.5L150.5 856.5Z" fill="#aaa" stroke-width="0.7"/>
</g>
<text x="130.4" y="988.3" font-size="25" textLength="954.4" lengthAdjust="spacingAndGlyphs" stroke="#111" stroke-width="0.25">*Dimensiunile produsului sunt aproximative și variază din cauza îndoiturilor din cablu.</text>
</svg>
</body></html>
